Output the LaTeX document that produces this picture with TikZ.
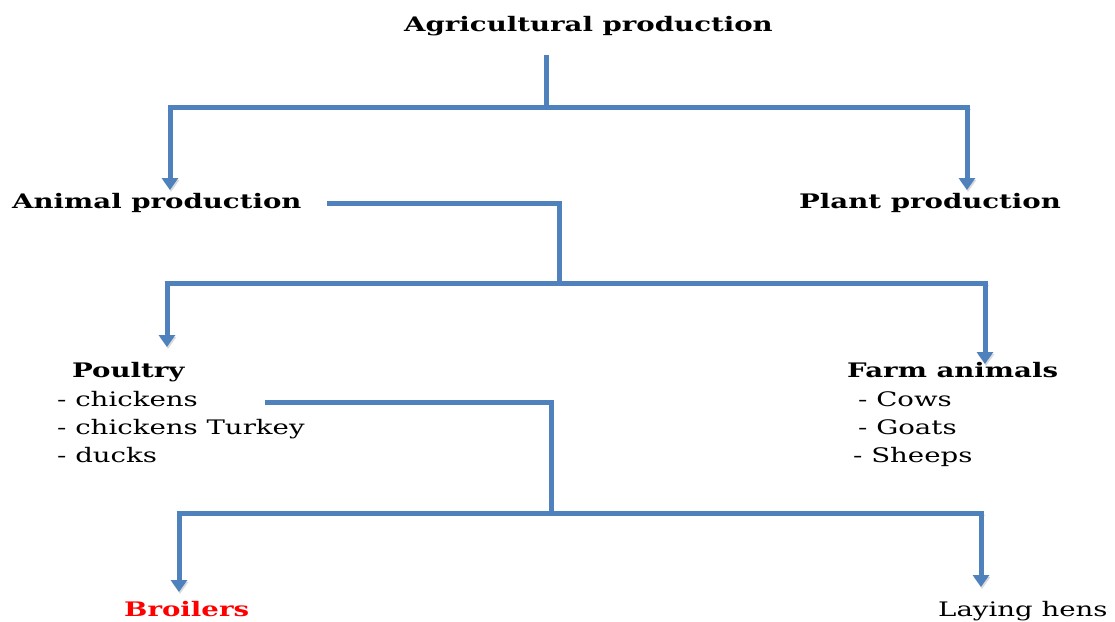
\documentclass[tikz,border=0pt]{standalone}
\usepackage{fontspec}
\setmainfont[FakeStretch=1.38]{DejaVu Serif}
\usetikzlibrary{arrows.meta}
\definecolor{linkblue}{RGB}{79,129,189}
\definecolor{hot}{RGB}{255,0,0}
\tikzset{
  lbl/.style={anchor=base west, inner sep=0pt, font=\fontsize{20}{24}\selectfont},
  head/.style={lbl, font=\fontsize{20}{24}\selectfont\bfseries},
  link/.style={draw=linkblue, line width=5pt, line cap=butt, line join=miter,
    preaction={draw=black!14, transform canvas={shift={(1pt,-2pt)}}}},
  arrowlink/.style={link, -{Triangle[width=16pt,length=12pt]}},
}
\begin{document}
\begin{tikzpicture}[x=1pt,y=-1pt]
\useasboundingbox (0,0) rectangle (1115,621);

% labels
\node[head] (agri) at (404,31) {Agricultural production};
\node[head] (animal) at (12,208) {Animal production};
\node[head] (plant) at (799,208) {Plant production};
\node[head] (poultry) at (72,377) {Poultry};
\node[lbl] (p1) at (57,406) {- chickens};
\node[lbl] (p2) at (57,434) {- chickens Turkey};
\node[lbl] (p3) at (57,462) {- ducks};
\node[head] (farm) at (847,377) {Farm animals};
\node[lbl] (f1) at (858,406) {- Cows};
\node[lbl] (f2) at (858,434) {- Goats};
\node[lbl] (f3) at (853,462) {- Sheeps};
\node[head, text=hot] (broil) at (124,616) {Broilers};
\node[lbl] (laying) at (938,616) {Laying hens};

% junction points
\coordinate (agriOut) at (546,55);
\coordinate (barA) at (546,107);
\coordinate (barAl) at (170,107);
\coordinate (barAr) at (967,107);
\coordinate (animalTip) at (170,190);
\coordinate (plantTip) at (967,190);

\coordinate (animalOut) at (327,203);
\coordinate (animalTurn) at (559,203);
\coordinate (barB) at (559,283);
\coordinate (barBl) at (167,283);
\coordinate (barBr) at (985,283);
\coordinate (poultryTip) at (167,347);
\coordinate (farmTip) at (985,364);

\coordinate (poultryOut) at (265,402);
\coordinate (poultryTurn) at (551,402);
\coordinate (barC) at (551,513);
\coordinate (barCl) at (179,513);
\coordinate (barCr) at (981,513);
\coordinate (broilTip) at (179,592);
\coordinate (layTip) at (981,587);

% agricultural production split
\draw[link] (agriOut) -- (barA);
\draw[link] ([xshift=-2.5pt]barAl) -- ([xshift=2.5pt]barAr);
\draw[arrowlink] (barAl) -- (animalTip);
\draw[arrowlink] (barAr) -- (plantTip);

% animal production split
\draw[link] (animalOut) -- (animalTurn) -- (barB);
\draw[link] ([xshift=-2.5pt]barBl) -- ([xshift=2.5pt]barBr);
\draw[arrowlink] (barBl) -- (poultryTip);
\draw[arrowlink] (barBr) -- (farmTip);

% poultry split
\draw[link] (poultryOut) -- (poultryTurn) -- (barC);
\draw[link] ([xshift=-2.5pt]barCl) -- ([xshift=2.5pt]barCr);
\draw[arrowlink] (barCl) -- (broilTip);
\draw[arrowlink] (barCr) -- (layTip);
\end{tikzpicture}
\end{document}
